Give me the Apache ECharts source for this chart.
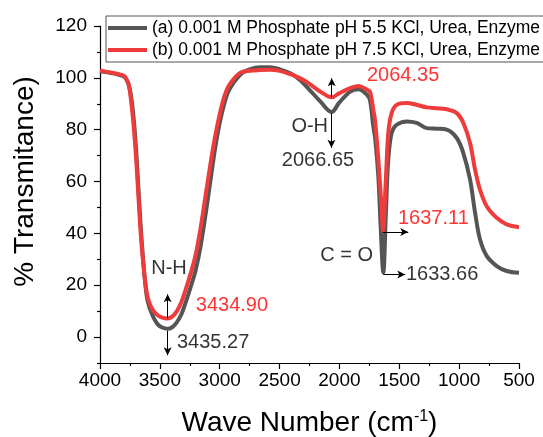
<!DOCTYPE html>
<html>
<head>
<meta charset="utf-8">
<script src="https://cdn.jsdelivr.net/npm/echarts@6/dist/echarts.min.js"></script>
<style>
  html, body { margin: 0; padding: 0; background: #ffffff; }
  #chart { width: 543px; height: 437px; }
</style>
</head>
<body>
<div id="chart"></div>
<script>
// FTIR spectra: wavenumber (cm-1) vs % transmittance
const seriesNames = [
  '(a) 0.001 M Phosphate pH 5.5 KCl, Urea, Enzyme',
  '(b) 0.001 M Phosphate pH 7.5 KCl, Urea, Enzyme'
];

// Band positions (cm-1): N-H, O-H, C=O
const peaksA = [3435.27, 2066.65, 1633.66];
const peaksB = [3434.90, 2064.35, 1637.11];

// Spectrum (a), pH 5.5
const wavenumberA = [
  4000, 3950, 3900, 3850, 3800, 3780, 3760, 3740, 3720, 3700, 3680, 3660, 3640, 3620, 3600,
  3560, 3520, 3480, peaksA[0], 3400, 3360, 3320, 3280, 3240, 3200, 3160, 3120, 3080, 3040,
  3000, 2960, 2920, 2830, 2750, 2660, 2580, 2500, 2410, 2330, 2250, 2160, peaksA[1], 2000,
  1910, 1840, 1770, 1745, 1717, 1700, 1675, 1655, peaksA[2], 1611, 1592, 1564, 1522, 1438,
  1355, 1271, 1187, 1104, 1020, 965, 909, 867, 826, 770, 686, 603, 500
];
const transA = [
  102.5, 102.2, 101.8, 101.3, 100.5, 99.5, 97.3, 92.8, 85, 73.6, 58, 42.8, 30, 19.7, 13.5,
  8.2, 5, 3.7, 3.2, 3.7, 5.6, 8.8, 14, 19.7, 26, 35, 46.7, 59.5, 72.3,
  82.6, 90.3, 95.5, 101.2, 103.3, 104.1, 104.1, 103.3, 101.8, 99.2, 95.4, 90.9, 86.8, 90.5,
  94.7, 95.6, 93.5, 91.5, 81.3, 76, 62, 42, 24.9, 49.2, 68.5, 78.7, 81.9, 83.2,
  82.6, 80.6, 80.4, 80, 76.8, 71, 60.8, 48, 37.7, 31.3, 27.4, 25.5, 24.8
];

// Spectrum (b), pH 7.5
const wavenumberB = [
  4000, 3950, 3900, 3850, 3800, 3780, 3760, 3740, 3720, 3700, 3680, 3660, 3640, 3620, 3600,
  3560, 3520, 3480, peaksB[0], 3400, 3360, 3320, 3280, 3240, 3200, 3160, 3120, 3080, 3040,
  3000, 2960, 2920, 2830, 2750, 2660, 2580, 2500, 2410, 2330, 2250, 2160, peaksB[1], 2000,
  1910, 1840, 1770, 1745, 1717, 1703, 1675, 1647, peaksB[2], 1611, 1592, 1564, 1522, 1438,
  1355, 1271, 1187, 1104, 1020, 965, 909, 867, 826, 770, 686, 603, 500
];
const transB = [
  102.8, 102.4, 102, 101.5, 100.8, 99.5, 97.5, 91, 82, 70, 55, 40, 29, 20.5, 15,
  10.5, 8.5, 7.5, 7.2, 7.8, 9.8, 13.5, 19, 25, 32, 42, 54, 66, 77,
  86, 93, 97.3, 101.9, 102.7, 103, 103.1, 102.7, 101.4, 99.9, 97.7, 94.7, 92.5, 94.1,
  96, 96.9, 95.4, 94.7, 87.7, 83.8, 68.5, 49.2, 41, 62, 78.7, 86.4, 89.6, 90.3,
  89.6, 88.6, 88.3, 87.9, 86.4, 82.6, 74.9, 64.6, 56.9, 50.5, 46, 43.5, 42.4
];

// Axis ticks
const xMin = 500, xMax = 4000, xStep = 500;
const yMin = -10, yMax = 120;
const yLabelValues = [0, 20, 40, 60, 80, 100, 120];
const yMinorValues = [-10, 10, 30, 50, 70, 90, 110];

const colorA = '#555555';
const colorB = '#ee3c3c';
const FONT = 'Arial, "Liberation Sans", sans-serif';

function pairs(xs, ys) { return xs.map((x, i) => [x, ys[i]]); }
function transAt(xs, ys, x) { return ys[xs.indexOf(x)]; }

const nhA = [peaksA[0], transAt(wavenumberA, transA, peaksA[0])];
const ohA = [peaksA[1], transAt(wavenumberA, transA, peaksA[1])];
const coA = [peaksA[2], transAt(wavenumberA, transA, peaksA[2])];
const nhB = [peaksB[0], transAt(wavenumberB, transB, peaksB[0])];
const ohB = [peaksB[1], transAt(wavenumberB, transB, peaksB[1])];
const coB = [peaksB[2], transAt(wavenumberB, transB, peaksB[2])];

// Peak arrows: start on the band minimum, point away from it
const arrowsA = [
  [{ coord: [nhA[0], nhA[1] - 0.8] }, { coord: [nhA[0], -7] }],
  [{ coord: [ohA[0], ohA[1] - 0.5] }, { coord: [ohA[0], 73] }],
  [{ coord: [coA[0], coA[1] - 0.8] }, { coord: [1450, coA[1] - 0.8] }]
];
const arrowsB = [
  [{ coord: [nhB[0], nhB[1]] }, { coord: [nhB[0], 16.5] }],
  [{ coord: [ohB[0], ohB[1]] }, { coord: [ohB[0], 99.8] }],
  [{ coord: [coB[0], coB[1] - 0.5] }, { coord: [1425, coB[1] - 0.5] }]
];

// Text notes placed in data coordinates
function note(x, y, text, color, align) {
  return {
    value: [x, y],
    label: { formatter: text, color: color, align: align }
  };
}
const notes = [
  note(3424, 26.5, 'N-H', '#000', 'center'),
  note(3200, 12, peaksB[0].toFixed(2), '#ff0000', 'left'),
  note(3357, -2, peaksA[0].toFixed(2), '#000', 'left'),
  note(2095, 81.3, 'O-H', '#000', 'right'),
  note(2179, 68.2, peaksA[1].toFixed(2), '#000', 'center'),
  note(1770, 100.8, peaksB[1].toFixed(2), '#ff0000', 'left'),
  note(1511, 45.8, peaksB[2].toFixed(2), '#ff0000', 'left'),
  note(1720, 31.5, 'C = O', '#000', 'right'),
  note(1444, 24.2, peaksA[2].toFixed(2), '#000', 'left')
];

const arrowStyle = {
  silent: true,
  symbol: ['none', 'arrow'],
  symbolSize: [6, 8],
  label: { show: false },
  lineStyle: { color: '#000', width: 1, type: 'solid' },
  emphasis: { disabled: true },
  animation: false
};

const axisLineStyle = { color: '#000', width: 1.2 };

const chart = echarts.init(document.getElementById('chart'), null, { renderer: 'canvas' });
chart.setOption({
  animation: false,
  backgroundColor: '#ffffff',
  textStyle: { fontFamily: FONT },
  grid: { left: 100, right: 24, top: 26, bottom: 74, containLabel: false, outerBoundsMode: 'none' },
  legend: {
    data: seriesNames,
    orient: 'vertical',
    left: 106,
    top: 16,
    padding: [3, 12, 3, 2],
    itemGap: 4,
    itemWidth: 39,
    itemHeight: 4,
    icon: 'rect',
    borderColor: '#555',
    borderWidth: 1,
    selectedMode: false,
    textStyle: { fontSize: 17.5, color: '#000', fontFamily: FONT }
  },
  xAxis: {
    type: 'value',
    inverse: true,
    min: xMin,
    max: xMax,
    interval: xStep,
    name: '{a|Wave Number (cm}{s|-1}{a|)}',
    nameLocation: 'middle',
    nameGap: 46,
    nameTextStyle: {
      rich: {
        a: { fontSize: 28, color: '#000', fontFamily: FONT },
        s: { fontSize: 16, color: '#000', fontFamily: FONT, verticalAlign: 'top', padding: [0, 0, 8, 0] }
      }
    },
    axisLine: { show: true, onZero: false, lineStyle: axisLineStyle },
    axisTick: { show: true, length: 6, lineStyle: axisLineStyle },
    minorTick: { show: true, splitNumber: 2, length: 3, lineStyle: axisLineStyle },
    axisLabel: { fontSize: 19, color: '#000', margin: 8, fontFamily: FONT, formatter: v => String(v) },
    splitLine: { show: false }
  },
  yAxis: [
    {
      type: 'value',
      min: yMin,
      max: yMax,
      name: '% Transmitance)',
      nameLocation: 'middle',
      nameGap: 61,
      nameTextStyle: { fontSize: 28, color: '#000', fontFamily: FONT, padding: [0, 0, 0, 26] },
      axisLine: { show: true, onZero: false, lineStyle: axisLineStyle },
      axisTick: { show: true, length: 6, customValues: yLabelValues, lineStyle: axisLineStyle },
      axisLabel: { fontSize: 19, color: '#000', margin: 13, customValues: yLabelValues, fontFamily: FONT, formatter: v => String(v) },
      splitLine: { show: false }
    },
    {
      type: 'value',
      min: yMin,
      max: yMax,
      position: 'left',
      axisLine: { show: false },
      axisTick: { show: true, length: 3, customValues: yMinorValues, lineStyle: axisLineStyle },
      axisLabel: { show: false },
      splitLine: { show: false }
    }
  ],
  series: [
    {
      name: seriesNames[0],
      type: 'line',
      data: pairs(wavenumberA, transA),
      smooth: 0.35,
      showSymbol: false,
      symbol: 'none',
      color: colorA,
      lineStyle: { color: colorA, width: 4 },
      markLine: Object.assign({ data: arrowsA }, arrowStyle),
      z: 2
    },
    {
      name: seriesNames[1],
      type: 'line',
      data: pairs(wavenumberB, transB),
      smooth: 0.35,
      showSymbol: false,
      symbol: 'none',
      color: colorB,
      lineStyle: { color: colorB, width: 4 },
      markLine: Object.assign({ data: arrowsB }, arrowStyle),
      z: 3
    },
    {
      name: 'notes',
      type: 'scatter',
      data: notes,
      symbolSize: 0,
      silent: true,
      itemStyle: { color: 'rgba(0,0,0,0)' },
      label: {
        show: true,
        position: [0, 0],
        verticalAlign: 'middle',
        fontSize: 20,
        fontFamily: FONT
      },
      z: 5
    }
  ]
});
</script>
</body>
</html>
